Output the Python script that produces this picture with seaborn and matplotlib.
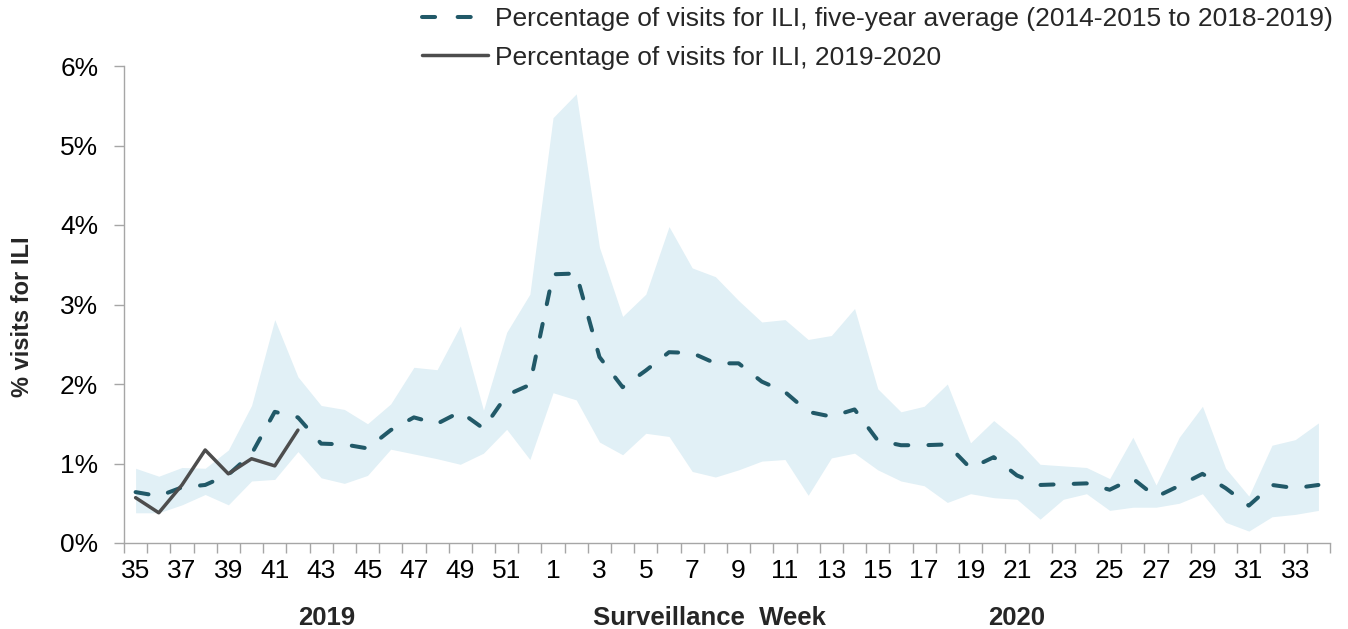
import numpy as np
import pandas as pd
import matplotlib
matplotlib.use("Agg")
import matplotlib.pyplot as plt
import seaborn as sns
from matplotlib.lines import Line2D
from matplotlib.ticker import FixedLocator, FuncFormatter

# ---- data ----
weeks = list(range(35, 53)) + list(range(1, 35))
avg_5yr = [0.64, 0.59, 0.70, 0.73, 0.86, 1.12, 1.65, 1.58, 1.25, 1.24, 1.19, 1.42, 1.58, 1.50, 1.65, 1.44, 1.86, 1.99,
           3.38, 3.39, 2.34, 1.96, 2.17, 2.40, 2.39, 2.26, 2.26, 2.03, 1.90, 1.65, 1.59, 1.68, 1.29, 1.23, 1.23, 1.24,
           0.94, 1.08, 0.85, 0.73, 0.74, 0.75, 0.67, 0.81, 0.58, 0.72, 0.87, 0.69, 0.47, 0.73, 0.69, 0.73]
upper = [0.94, 0.84, 0.95, 0.94, 1.17, 1.73, 2.81, 2.09, 1.73, 1.68, 1.50, 1.75, 2.21, 2.18, 2.73, 1.67, 2.65, 3.13,
         5.35, 5.65, 3.72, 2.85, 3.13, 3.98, 3.46, 3.35, 3.05, 2.78, 2.81, 2.56, 2.61, 2.95, 1.94, 1.65, 1.72, 2.00,
         1.26, 1.54, 1.30, 0.99, 0.97, 0.95, 0.81, 1.33, 0.73, 1.33, 1.72, 0.94, 0.59, 1.23, 1.30, 1.51]
lower = [0.38, 0.38, 0.48, 0.61, 0.48, 0.78, 0.80, 1.15, 0.82, 0.75, 0.85, 1.18, 1.12, 1.06, 0.99, 1.13, 1.43, 1.05,
         1.89, 1.80, 1.27, 1.11, 1.38, 1.34, 0.90, 0.83, 0.92, 1.03, 1.05, 0.60, 1.07, 1.13, 0.92, 0.78, 0.72, 0.51,
         0.62, 0.57, 0.55, 0.30, 0.55, 0.62, 0.41, 0.45, 0.45, 0.50, 0.62, 0.26, 0.15, 0.33, 0.36, 0.41]
current = [0.57, 0.38, 0.73, 1.17, 0.87, 1.06, 0.97, 1.42]
y_ticks = [0, 1, 2, 3, 4, 5, 6]

label_avg = "Percentage of visits for ILI, five-year average (2014-2015 to 2018-2019)"
label_cur = "Percentage of visits for ILI, 2019-2020"

AVG_COLOR = "#215968"
CUR_COLOR = "#4d4d4d"
BAND_COLOR = "#e1f0f6"
FS = 19

# ---- style ----
sns.set_style("ticks")
plt.rcParams["font.family"] = ["Liberation Sans", "DejaVu Sans"]

W, H = 1348, 629
fig = plt.figure(figsize=(W / 100, H / 100), dpi=100)
ax = fig.add_axes([124 / W, 1 - 543 / H, (1330 - 124) / W, (543 - 66) / H])

idx = np.arange(len(weeks))
df = pd.DataFrame({"idx": idx, "avg": avg_5yr, "lo": lower, "hi": upper})
df_cur = pd.DataFrame({"idx": idx[:len(current)], "cur": current})

ax.fill_between(df["idx"], df["lo"], df["hi"], color=BAND_COLOR, linewidth=0, zorder=1)
sns.lineplot(data=df, x="idx", y="avg", ax=ax, color=AVG_COLOR, linewidth=2.9,
             linestyle=(0, (3.25, 5.0)), dash_capstyle="round", zorder=3)
sns.lineplot(data=df_cur, x="idx", y="cur", ax=ax, color=CUR_COLOR, linewidth=2.5,
             solid_capstyle="round", zorder=4)

ax.set_xlim(-0.5, len(weeks) - 0.5)
ax.set_ylim(0, 6)
ax.set_yticks(y_ticks)
ax.yaxis.set_major_formatter(FuncFormatter(lambda v, p: f"{v:.0f}%"))

# x: labels at every other week (no tick marks), tick marks at category boundaries
ax.set_xticks(idx[::2])
ax.set_xticklabels([str(w) for w in weeks[::2]])
ax.xaxis.set_minor_locator(FixedLocator(np.arange(-0.5, len(weeks), 1.0)))
ax.tick_params(axis="x", which="major", length=0, pad=11.5, labelsize=FS, colors="black")
ax.tick_params(axis="x", which="minor", length=7, width=1, color="#a6a6a6")
ax.tick_params(axis="y", which="major", length=7, width=1, color="#a6a6a6", pad=11.5,
               labelsize=FS, labelcolor="black")

for s in ["top", "right"]:
    ax.spines[s].set_visible(False)
for s in ["left", "bottom"]:
    ax.spines[s].set_color("#a6a6a6")
    ax.spines[s].set_linewidth(1)

ax.set_xlabel("")
ax.set_ylabel("")

fig.text(23 / W, 1 - 317 / H, "% visits for ILI", rotation=90, ha="center", va="center",
         fontsize=17, fontweight="bold")
fig.text(709 / W, 1 - 625 / H, "Surveillance  Week", ha="center", va="baseline",
         fontsize=18.5, fontweight="bold")
fig.text(327 / W, 1 - 625 / H, "2019", ha="center", va="baseline", fontsize=18.5, fontweight="bold")
fig.text(1017 / W, 1 - 625 / H, "2020", ha="center", va="baseline", fontsize=18.5, fontweight="bold")

h_avg = Line2D([], [], color=AVG_COLOR, linewidth=2.9, linestyle=(0, (3.25, 5.6)),
               dash_capstyle="round")
h_cur = Line2D([], [], color=CUR_COLOR, linewidth=2.5, solid_capstyle="round")
ax.legend([h_avg, h_cur], [label_avg, label_cur], loc="upper left",
          bbox_to_anchor=(422 / W, 1 - 7 / H), bbox_transform=fig.transFigure,
          frameon=False, borderpad=0, borderaxespad=0, handlelength=2.5,
          handletextpad=0.27, labelspacing=0.55, fontsize=FS)

fig.savefig("out.png", dpi=100)
